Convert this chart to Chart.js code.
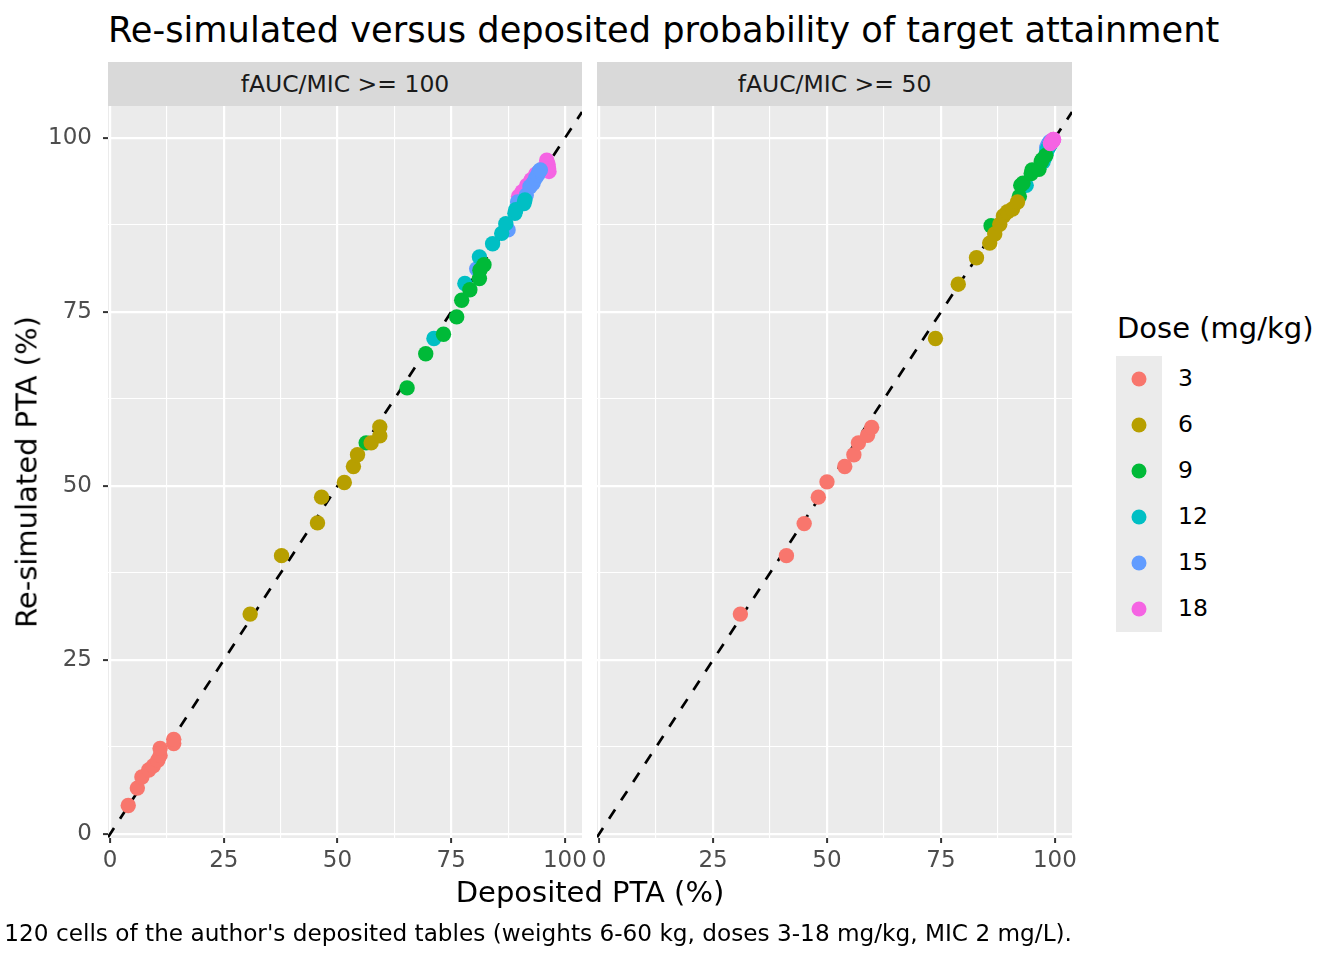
<!DOCTYPE html>
<html><head><meta charset="utf-8">
<script src="https://cdn.jsdelivr.net/npm/chart.js@4.4.1/dist/chart.umd.min.js"></script>
<style>
body{margin:0;width:1344px;height:960px;background:#fff;overflow:hidden;font-family:'DejaVu Sans';position:relative}
.t{position:absolute;white-space:nowrap;line-height:1}
.c{transform:translate(-50%,-50%)}
canvas{position:absolute;top:0}
.strip{position:absolute;top:62px;height:44px;background:#D9D9D9;color:#1A1A1A;font-size:23.5px;display:flex;align-items:center;justify-content:center;white-space:nowrap}
.key{position:absolute;width:15px;height:15px;border-radius:50%;transform:translate(-50%,-50%)}
</style></head><body>
<div class="t" id="title" style="left:108px;top:12px;font-size:35.2px;color:#000"></div>
<div class="strip" id="strip1" style="left:108px;width:474px"></div>
<div class="strip" id="strip2" style="left:597px;width:475px"></div>
<canvas id="c1" width="600" height="960" style="left:0;width:600px;height:960px"></canvas>
<canvas id="c2" width="500" height="960" style="left:580px;width:500px;height:960px"></canvas>
<div class="t c" id="xtitle" style="left:590px;top:892px;font-size:29px;color:#000"></div>
<div class="t c" id="ytitle" style="left:27px;top:472px;font-size:29px;color:#000;transform:translate(-50%,-50%) rotate(-90deg)"></div>
<div class="t" id="caption" style="right:272px;top:921px;font-size:23.2px;color:#000"></div>
<div class="t" id="legtitle" style="left:1117px;top:314px;font-size:29px;color:#000"></div>
<div id="legkeys" style="position:absolute;left:1116px;top:356px;width:46px;height:276px;background:#EBEBEB"></div>
<div id="legend"></div>
<script>
// ---- text ----
const chartTitle = "Re-simulated versus deposited probability of target attainment";
const facetLabels = ["fAUC/MIC >= 100", "fAUC/MIC >= 50"];
const xAxisTitle = "Deposited PTA (%)";
const yAxisTitle = "Re-simulated PTA (%)";
const captionText = "120 cells of the author's deposited tables (weights 6-60 kg, doses 3-18 mg/kg, MIC 2 mg/L).";
const legendTitle = "Dose (mg/kg)";

// ---- categories ----
const doses = ["3", "6", "9", "12", "15", "18"];
const doseColors = ["#F8766D", "#B79F00", "#00BA38", "#00BFC4", "#619CFF", "#F564E3"];

// ---- axis ----
const xLimits = [-0.45, 103.75];
const yLimits = [-0.57, 104.6];
const tickValues = [0, 12.5, 25, 37.5, 50, 62.5, 75, 87.5, 100];
const majorTicks = [0, 25, 50, 75, 100];

// ---- facet fAUC/MIC >= 100 : deposited (x) and re-simulated (y) ----
const dep100_d3  = [4, 6, 7, 8.5, 9.5, 10.5, 11, 11, 14, 14];
const sim100_d3  = [4.1, 6.6, 8.2, 9.2, 9.8, 10.6, 11.3, 12.3, 13.0, 13.6];
const dep100_d6  = [30.8, 37.7, 45.6, 46.5, 51.5, 53.5, 54.4, 57.4, 59.3, 59.3];
const sim100_d6  = [31.6, 40.0, 44.7, 48.4, 50.5, 52.8, 54.5, 56.2, 57.2, 58.5];
const dep100_d9  = [56.3, 65.3, 69.4, 73.3, 76.2, 77.3, 79.1, 81.2, 81.3, 82.2];
const sim100_d9  = [56.2, 64.1, 69.0, 71.8, 74.3, 76.7, 78.2, 79.8, 81.0, 81.8];
const dep100_d12 = [71.2, 78.0, 81.2, 84.1, 86.1, 87.0, 89.0, 89.2, 91.0, 91.2];
const sim100_d12 = [71.2, 79.1, 82.9, 84.8, 86.3, 87.7, 89.2, 89.7, 90.6, 91.1];
const dep100_d15 = [80.6, 87.5, 89.6, 91.5, 92.3, 93.0, 93.5, 94.0, 94.3, 94.6];
const sim100_d15 = [81.2, 86.8, 90.8, 91.8, 93.0, 93.5, 94.2, 94.7, 95.2, 95.4];
const dep100_d18 = [89.8, 90.6, 91.6, 92.6, 93.6, 95.5, 96.0, 96.3, 96.4, 96.5];
const sim100_d18 = [91.6, 92.3, 93.2, 94.0, 94.8, 95.8, 96.8, 96.2, 95.6, 95.2];

// ---- facet fAUC/MIC >= 50 ----
const dep50_d3  = [31.0, 41.1, 45.0, 48.1, 50.0, 53.9, 55.9, 56.9, 58.9, 59.8];
const sim50_d3  = [31.6, 40.0, 44.6, 48.4, 50.6, 52.8, 54.5, 56.2, 57.3, 58.4];
const dep50_d6  = [73.8, 78.8, 82.8, 85.7, 86.8, 87.9, 88.7, 89.6, 90.7, 91.8];
const sim50_d6  = [71.2, 79.0, 82.8, 84.9, 86.2, 87.6, 88.8, 89.4, 89.8, 90.8];
const dep50_d9  = [86.0, 92.2, 92.5, 93.0, 94.8, 95.0, 96.5, 97.0, 97.2, 98.0];
const sim50_d9  = [87.4, 91.6, 93.2, 93.5, 94.9, 95.4, 95.5, 96.6, 96.9, 97.5];
const dep50_d12 = [93.7, 97.4, 97.8, 98.1, 98.3, 98.5, 98.7, 98.9, 99.0, 99.1];
const sim50_d12 = [93.2, 96.6, 97.2, 97.8, 98.3, 98.6, 98.8, 99.0, 99.2, 99.3];
const dep50_d15 = [98.2, 98.4, 98.5, 98.6, 98.7, 98.8, 98.8, 98.9, 99.0, 99.0];
const sim50_d15 = [98.6, 98.8, 99.0, 99.1, 99.2, 99.3, 99.3, 99.4, 99.4, 99.5];
const dep50_d18 = [99.0, 99.2, 99.3, 99.4, 99.5, 99.5, 99.6, 99.6, 99.7, 99.7];
const sim50_d18 = [99.2, 99.4, 99.5, 99.5, 99.6, 99.6, 99.7, 99.7, 99.8, 99.8];

const facet100 = [[dep100_d3, sim100_d3], [dep100_d6, sim100_d6], [dep100_d9, sim100_d9],
                  [dep100_d12, sim100_d12], [dep100_d15, sim100_d15], [dep100_d18, sim100_d18]];
const facet50  = [[dep50_d3, sim50_d3], [dep50_d6, sim50_d6], [dep50_d9, sim50_d9],
                  [dep50_d12, sim50_d12], [dep50_d15, sim50_d15], [dep50_d18, sim50_d18]];

// ---- text into DOM ----
document.getElementById('title').textContent = chartTitle;
document.getElementById('strip1').textContent = facetLabels[0];
document.getElementById('strip2').textContent = facetLabels[1];
document.getElementById('xtitle').textContent = xAxisTitle;
document.getElementById('ytitle').textContent = yAxisTitle;
document.getElementById('caption').textContent = captionText;
document.getElementById('legtitle').textContent = legendTitle;
const leg = document.getElementById('legend');
doses.forEach((d, i) => {
  const k = document.createElement('div');
  k.className = 'key';
  k.style.left = '1139px'; k.style.top = (379 + 46 * i) + 'px'; k.style.background = doseColors[i];
  leg.appendChild(k);
  const l = document.createElement('div');
  l.className = 't';
  l.style.left = '1178px'; l.style.top = (379 + 46 * i - 12) + 'px'; l.style.fontSize = '23.5px';
  l.textContent = d;
  leg.appendChild(l);
});

// ---- chart ----
Chart.defaults.font.family = "'DejaVu Sans'";
const panelBg = {
  id: 'panelBg',
  beforeDraw(c) {
    const a = c.chartArea, ctx = c.ctx;
    ctx.save(); ctx.fillStyle = '#EBEBEB';
    ctx.fillRect(a.left, a.top, a.right - a.left, a.bottom - a.top);
    ctx.restore();
  }
};
const isMajor = v => majorTicks.includes(v);
function grid(drawTicks) {
  return {
    color: '#FFFFFF',
    lineWidth: c => (c.tick && isMajor(c.tick.value)) ? 2.2 : 1.1,
    drawTicks: drawTicks, tickLength: 5, tickWidth: 2,
    tickColor: c => (c.tick && isMajor(c.tick.value)) ? '#333333' : 'rgba(0,0,0,0)'
  };
}
function buildTicks(s) { s.ticks = tickValues.map(v => ({ value: v })); }

function makeChart(id, facet, showY, padding, topOrder) {
  const datasets = facet.map((xy, i) => ({
    data: xy[0].map((x, j) => ({ x: x, y: xy[1][j] })),
    backgroundColor: doseColors[i], borderWidth: 0,
    pointRadius: 7.7, pointHoverRadius: 7.7,
    order: (topOrder === i) ? -1 : 0
  }));
  datasets.push({
    data: [{ x: xLimits[0], y: xLimits[0] }, { x: xLimits[1], y: xLimits[1] }],
    showLine: true, borderColor: '#000000', borderWidth: 2.7, borderDash: [11, 11],
    pointRadius: 0, order: 1
  });
  return new Chart(document.getElementById(id), {
    type: 'scatter',
    data: { datasets },
    plugins: [panelBg],
    options: {
      responsive: false, animation: false, devicePixelRatio: 1,
      layout: { padding: padding },
      plugins: { legend: { display: false }, tooltip: { enabled: false } },
      scales: {
        x: {
          type: 'linear', min: xLimits[0], max: xLimits[1],
          afterBuildTicks: buildTicks,
          afterFit: s => { s.height = 50; s.paddingLeft = 0; s.paddingRight = 0; },
          grid: grid(true), border: { display: false },
          ticks: { autoSkip: false, maxRotation: 0, padding: 4, color: '#4D4D4D', font: { size: 23 },
                   callback: v => isMajor(v) ? String(v) : '' }
        },
        y: {
          type: 'linear', min: yLimits[0], max: yLimits[1],
          afterBuildTicks: buildTicks,
          afterFit: s => { s.width = showY ? 108 : 0; s.paddingTop = 0; s.paddingBottom = 0; },
          grid: grid(showY), border: { display: false },
          ticks: { display: showY, autoSkip: false, padding: 11, color: '#4D4D4D', font: { size: 23 },
                   callback: v => isMajor(v) ? String(v) : '' }
        }
      }
    }
  });
}
makeChart('c1', facet100, true, { left: 0, top: 106, right: 18, bottom: 72 }, -99);
makeChart('c2', facet50, false, { left: 17, top: 106, right: 8, bottom: 72 }, 5);
</script>
</body></html>
